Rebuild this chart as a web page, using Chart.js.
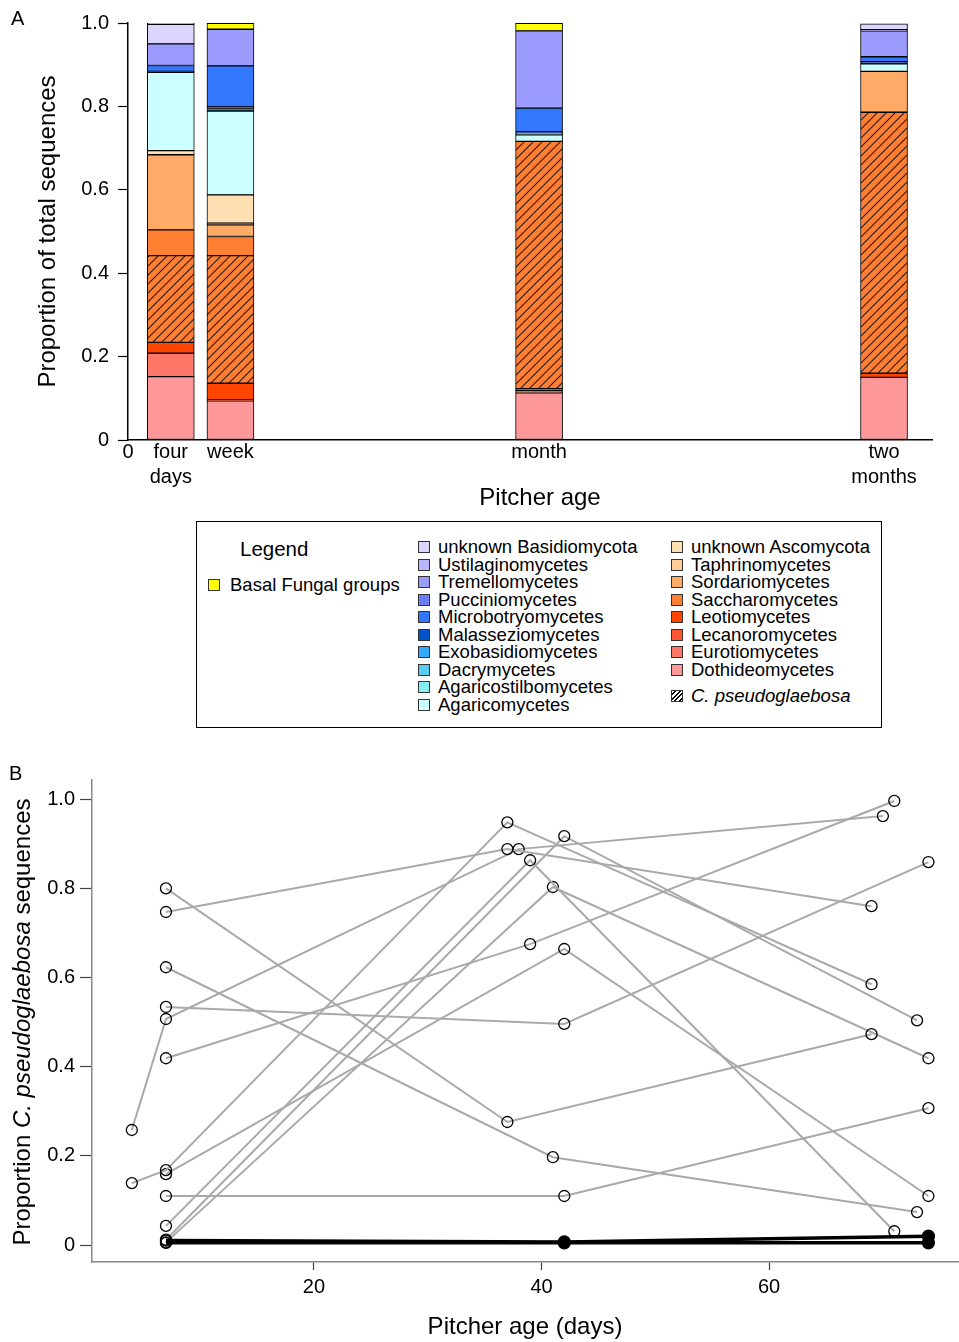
<!DOCTYPE html>
<html>
<head>
<meta charset="utf-8">
<title>Fungal community composition in pitchers</title>
<script src="https://cdn.jsdelivr.net/npm/chart.js@4.4.1/dist/chart.umd.min.js"></script>
<style>
html,body{margin:0;padding:0;background:#fff}
body{position:relative;width:959px;height:1342px;overflow:hidden;font-family:"Liberation Sans",Arial,Helvetica,sans-serif;color:#000}
canvas{position:absolute;left:0}
#chartA{top:0}
#chartB{top:745px}
.txt{position:absolute;white-space:nowrap}
#legendBox{position:absolute;left:196px;top:521px;width:686px;height:207px;border:1.5px solid #000;box-sizing:border-box}
.item{position:absolute;height:20px;line-height:20px;font-size:18.5px;white-space:nowrap}
.sw{position:absolute;width:10px;height:10px;border:1px solid #333;top:4px}
</style>
</head>
<body>
<canvas id="chartA" width="959" height="515"></canvas>
<canvas id="chartB" width="959" height="597"></canvas>
<div class="txt" style="left:11px;top:6px;font-size:20px;line-height:24px">A</div>
<div class="txt" style="left:9px;top:761px;font-size:20px;line-height:24px">B</div>
<div class="txt" style="left:440px;width:200px;text-align:center;top:485px;height:24px;font-size:24px;line-height:24px">Pitcher age</div>
<div class="txt" style="left:-228px;top:1010px;width:500px;height:24px;text-align:center;font-size:24px;line-height:24px;transform:rotate(-90deg);transform-origin:50% 50%">Proportion <i>C. pseudoglaebosa</i> sequences</div>
<div id="legendBox"></div>
<script>
// ---------- Panel A data ----------
const taxa = ['Dothideomycetes','Eurotiomycetes','Lecanoromycetes','Leotiomycetes','C. pseudoglaebosa','Saccharomycetes','Sordariomycetes','Taphrinomycetes','unknown Ascomycota','Agaricomycetes','Agaricostilbomycetes','Dacrymycetes','Exobasidiomycetes','Malasseziomycetes','Microbotryomycetes','Pucciniomycetes','Tremellomycetes','Ustilaginomycetes','unknown Basidiomycota','Basal Fungal groups'];
const taxaColors = ['#FF9999','#FF7766','#FF5533','#FF4400','#FF7F33','#FF7F33','#FFAA66','#FFCC99','#FFE0B3','#CCFFFF','#88EEF5','#55CCF0','#33AAFF','#0055CC','#3377FF','#6B7DF5','#9C9CFF','#B9B5FF','#DCD6FF','#FFFF00'];
const ageLabels = ['four days','week','month','two months'];
const agePositions = [3.3, 7.9, 31.7, 58.3];
const fourDays  = [0.152,0.056,0,0.026,0.208,0.062,0.180,0,0.010,0.188,0,0,0,0.002,0.014,0,0.052,0,0.047,0.005];
const week      = [0.094,0,0.002,0.040,0.306,0.046,0.028,0.004,0.068,0.201,0,0,0.006,0.004,0.098,0,0.088,0,0,0.014];
const month     = [0.113,0.002,0.003,0.005,0.593,0,0,0,0,0.016,0.004,0,0,0.003,0.057,0,0.185,0,0,0.018];
const twoMonths = [0.150,0,0,0.010,0.626,0,0.098,0,0,0.018,0,0,0,0.005,0.012,0,0.062,0.003,0.014,0];
const yTicksA = [0,0.2,0.4,0.6,0.8,1.0];

// ---------- Panel B data ----------
const pitcherDays = [
  [7,37,69],
  [7,37,69],
  [7,41,73],
  [7,42,74],
  [4,7,38,70],
  [7,39,71],
  [4,7,37,69],
  [7,42,74],
  [7,42,74],
  [7,39,71],
  [7,42,73],
  [7,41,74]
];
const pitcherProps = [
  [0.800,0.276,0.473],
  [0.747,0.888,0.760],
  [0.623,0.197,0.074],
  [0.534,0.496,0.859],
  [0.258,0.507,0.888,0.962],
  [0.419,0.675,0.996],
  [0.139,0.168,0.948,0.585],
  [0.159,0.664,0.110],
  [0.110,0.110,0.307],
  [0.043,0.863,0.031],
  [0.012,0.917,0.504],
  [0.006,0.803,0.419]
];
const lowDays  = [[7,42,74],[7,42,74]];
const lowProps = [[0.010,0.007,0.020],[0.005,0.005,0.005]];
const xTicksB = [20,40,60];
const yTicksB = [0,0.2,0.4,0.6,0.8,1.0];

// ---------- helpers ----------
const FONT = '"Liberation Sans", Arial, Helvetica, sans-serif';
function hatch(bg, fg, size){
  const c = document.createElement('canvas'); c.width = size; c.height = size;
  const g = c.getContext('2d');
  g.fillStyle = bg; g.fillRect(0,0,size,size);
  g.strokeStyle = fg; g.lineWidth = 1.1;
  g.beginPath();
  g.moveTo(0,size); g.lineTo(size,0);
  g.moveTo(-size/2,size/2); g.lineTo(size/2,-size/2);
  g.moveTo(size/2,size*1.5); g.lineTo(size*1.5,size/2);
  g.stroke();
  return g.createPattern(c,'repeat');
}
const hatchIndex = taxa.indexOf('C. pseudoglaebosa');
const columns = [fourDays, week, month, twoMonths];
const tickLabelsA = [0].concat(agePositions);
const tickTextA = ['0'].concat(ageLabels.map(l => l.includes(' ') ? l.split(' ') : l));

const datasetsA = taxa.map((name, i) => ({
  label: name,
  data: columns.map((col, j) => ({x: agePositions[j], y: col[i] > 0 ? col[i] : null})),
  backgroundColor: i === hatchIndex ? hatch(taxaColors[i], '#2a1a10', 9) : taxaColors[i],
  borderColor: '#000',
  borderWidth: 1,
  borderSkipped: false,
  barThickness: 47
}));

new Chart(document.getElementById('chartA'), {
  type: 'bar',
  data: { datasets: datasetsA },
  options: {
    responsive: false, animation: false, events: [],
    layout: { autoPadding: false, padding: { left: 0, right: 27, top: 23, bottom: 0 } },
    plugins: { legend: { display: false }, tooltip: { enabled: false } },
    scales: {
      x: {
        type: 'linear', stacked: true, min: 0, max: 62, offset: false,
        grid: { display: false, drawTicks: false },
        border: { display: true, color: '#000', width: 1.5 },
        afterBuildTicks: s => { s.ticks = tickLabelsA.map(v => ({value: v})); },
        afterFit: s => { s.height = 75; },
        ticks: {
          autoSkip: false, maxRotation: 0, padding: 0, color: '#000',
          font: { family: FONT, size: 20, lineHeight: 1.25 },
          callback: (v, i) => tickTextA[i]
        }
      },
      y: {
        stacked: true, min: 0, max: 1.0,
        grid: { drawOnChartArea: false, drawTicks: true, tickLength: 10, tickColor: '#000', tickWidth: 1.2 },
        border: { display: true, color: '#000', width: 1.5 },
        afterBuildTicks: s => { s.ticks = yTicksA.map(v => ({value: v})); },
        afterFit: s => { s.width = 128; },
        ticks: {
          padding: 9, color: '#000',
          font: { family: FONT, size: 20 },
          callback: v => v === 0 ? '0' : v.toFixed(1)
        },
        title: {
          display: true, text: 'Proportion of total sequences', color: '#000',
          font: { family: FONT, size: 24, lineHeight: 1.2 },
          padding: { top: 33.6, bottom: 0 }
        }
      }
    }
  }
});

// ---------- Legend ----------
const box = document.getElementById('legendBox');
function addItem(left, centerY, color, text, italic, hatched){
  const d = document.createElement('div');
  d.className = 'item';
  d.style.left = left + 'px';
  d.style.top = (centerY - 10) + 'px';
  const sw = document.createElement('span');
  sw.className = 'sw';
  sw.style.left = '0px';
  if (hatched) sw.style.background = 'repeating-linear-gradient(135deg,#fff 0 2px,#000 2px 3.2px)';
  else sw.style.background = color;
  d.appendChild(sw);
  const t = document.createElement('span');
  t.style.position = 'absolute';
  t.style.left = (left < 200 ? 22 : 20) + 'px';
  if (italic) t.style.fontStyle = 'italic';
  t.textContent = text;
  d.appendChild(t);
  box.appendChild(d);
}
const title = document.createElement('div');
title.className = 'item'; title.style.left = '43px'; title.style.top = '17px'; title.style.fontSize = '20.5px';
title.textContent = 'Legend';
box.appendChild(title);
const basalIdx = taxa.indexOf('Basal Fungal groups');
addItem(11, 63, taxaColors[basalIdx], taxa[basalIdx]);
const basidioCol = [18,17,16,15,14,13,12,11,10,9];
const ascoCol = [8,7,6,5,3,2,1,0];
basidioCol.forEach((ti, r) => addItem(221, 25 + 17.55 * r, taxaColors[ti], taxa[ti]));
ascoCol.forEach((ti, r) => addItem(474, 25 + 17.55 * r, taxaColors[ti], taxa[ti]));
addItem(474, 174, null, taxa[hatchIndex], true, true);

// ---------- Panel B ----------
const datasetsB = [];
lowDays.forEach((days, k) => {
  datasetsB.push({
    data: days.map((d, i) => ({x: d, y: lowProps[k][i]})),
    borderColor: '#000', borderWidth: 3.5,
    pointRadius: days.map((d, i) => i === 0 ? 5.5 : 6),
    pointBackgroundColor: days.map((d, i) => i === 0 ? 'rgba(0,0,0,0)' : '#000'),
    pointBorderColor: '#000', pointBorderWidth: 1.3,
    tension: 0, fill: false, order: 0
  });
});
pitcherDays.forEach((days, k) => {
  datasetsB.push({
    data: days.map((d, i) => ({x: d, y: pitcherProps[k][i]})),
    borderColor: '#A9A9A9', borderWidth: 2,
    pointRadius: 5.5,
    pointBackgroundColor: 'rgba(0,0,0,0)',
    pointBorderColor: '#000', pointBorderWidth: 1.3,
    tension: 0, fill: false, order: 1
  });
});

new Chart(document.getElementById('chartB'), {
  type: 'line',
  data: { datasets: datasetsB },
  options: {
    responsive: false, animation: false, events: [],
    layout: { autoPadding: false, padding: { left: 0, right: 1, top: 35, bottom: 0 } },
    plugins: { legend: { display: false }, tooltip: { enabled: false } },
    scales: {
      x: {
        type: 'linear', min: 0.5, max: 76.6,
        grid: { drawOnChartArea: false, drawTicks: true, tickLength: 8, tickColor: '#444', tickWidth: 1.2 },
        border: { display: true, color: '#888', width: 1.5 },
        afterBuildTicks: s => { s.ticks = xTicksB.map(v => ({value: v})); },
        afterFit: s => { s.height = 80; },
        ticks: { padding: 5, color: '#000', maxRotation: 0, font: { family: FONT, size: 20 } },
        title: {
          display: true, text: 'Pitcher age (days)', color: '#000',
          font: { family: FONT, size: 24, lineHeight: 1.2 },
          padding: { top: 0, bottom: 0.6 }
        }
      },
      y: {
        type: 'linear', min: -0.038, max: 1.043,
        grid: { drawOnChartArea: false, drawTicks: true, tickLength: 12, tickColor: '#444', tickWidth: 1.2 },
        border: { display: true, color: '#888', width: 1.5 },
        afterBuildTicks: s => { s.ticks = yTicksB.map(v => ({value: v})); },
        afterFit: s => { s.width = 92; },
        ticks: { padding: 5, color: '#000', font: { family: FONT, size: 20 },
          callback: v => v === 0 ? '0' : v.toFixed(1) }
      }
    }
  }
});
</script>
</body>
</html>
